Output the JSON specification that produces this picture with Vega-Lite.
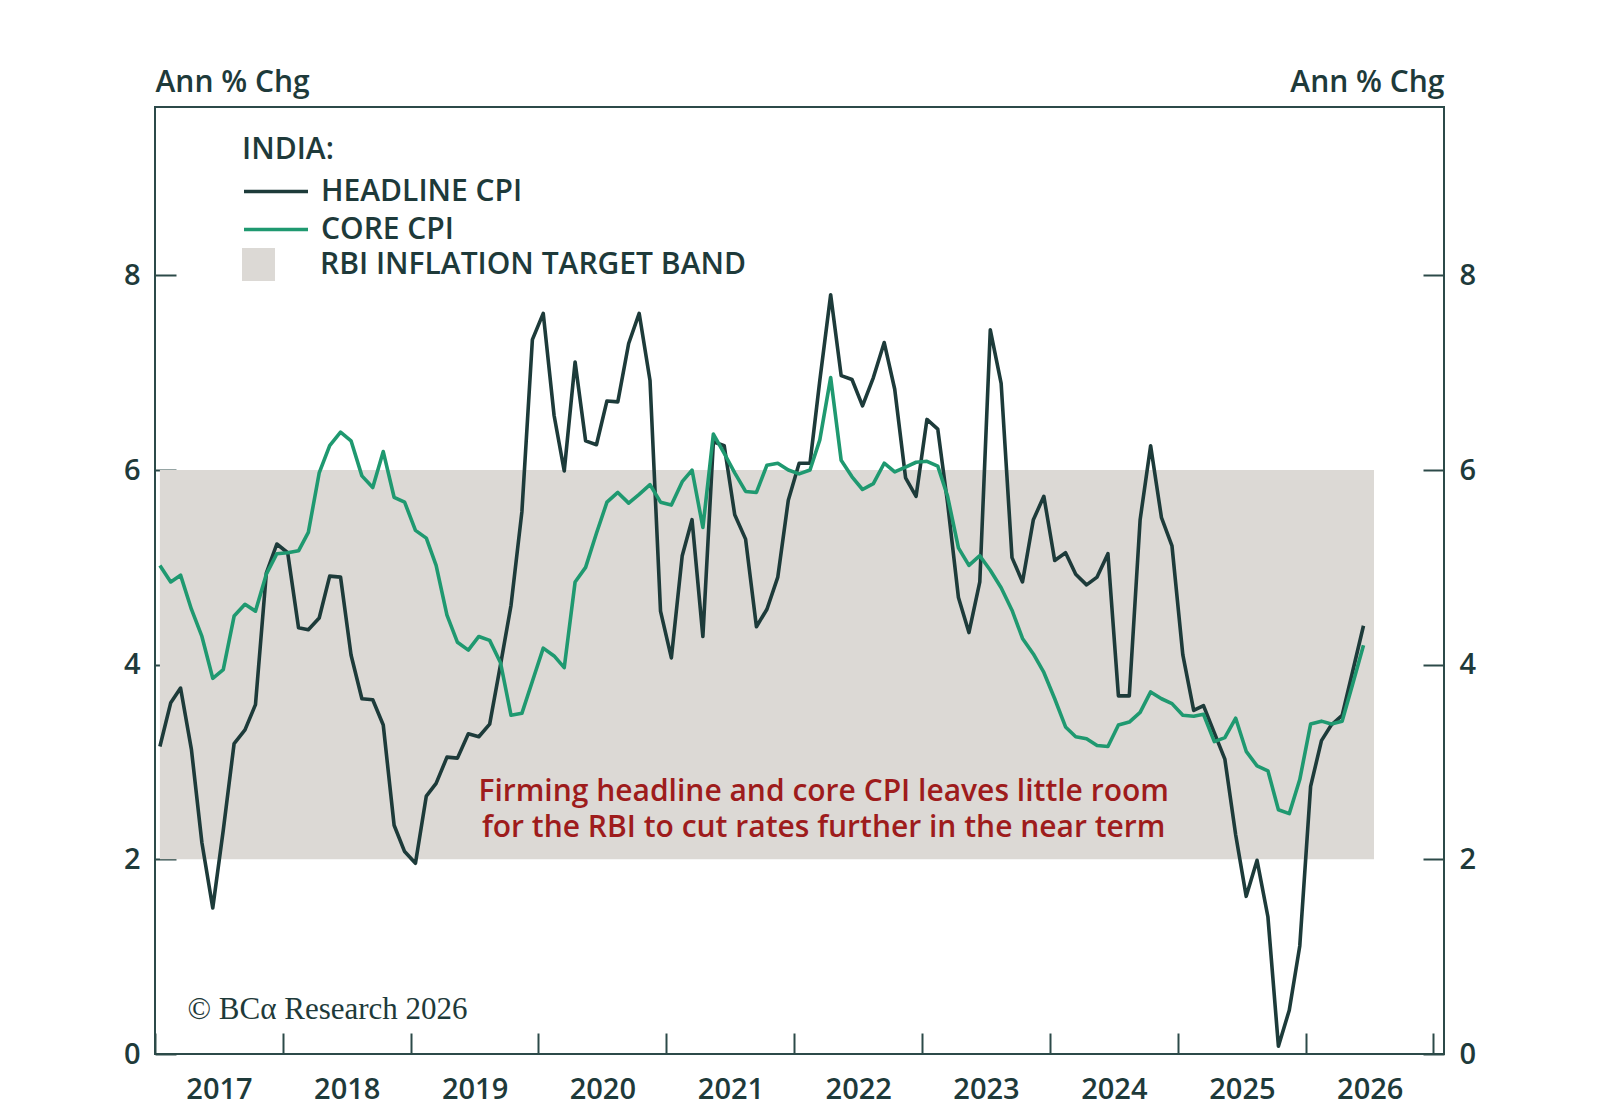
{
  "$schema": "https://vega.github.io/schema/vega-lite/v6.json",
  "width": 1289,
  "height": 947,
  "autosize": {"type": "none"},
  "padding": {"left": 155, "top": 107, "right": 156, "bottom": 55},
  "background": "white",
  "config": {
    "font": "Open Sans",
    "view": {"stroke": "#2c4a49", "strokeWidth": 2},
    "axis": {
      "grid": false,
      "domain": false,
      "labelFont": "Open Sans",
      "labelFontSize": 29,
      "labelFontWeight": 600,
      "labelColor": "#1e3a3a",
      "tickColor": "#2c4a49",
      "tickWidth": 2,
      "tickSize": -21,
      "titleFont": "Open Sans",
      "titleFontSize": 30,
      "titleFontWeight": 600,
      "titleColor": "#1e3a3a"
    },
    "legend": {
      "padding": 0,
      "labelFont": "Open Sans",
      "labelFontSize": 30,
      "labelFontWeight": 600,
      "labelColor": "#1e3a3a",
      "labelLimit": 0,
      "titleFont": "Open Sans",
      "titleFontSize": 30,
      "titleFontWeight": 600,
      "titleColor": "#1e3a3a",
      "titleLimit": 0
    }
  },
  "datasets": {
    "band": [
      {"date": "2017-01-15", "end": "2026-07-15", "lo": 2, "hi": 6, "name": "RBI INFLATION TARGET BAND"}
    ],
    "notes": [
      {"date": "2022-03-26", "value": 2.69, "text": ["Firming headline and core CPI leaves little room", "for the RBI to cut rates further in the near term"]}
    ],
    "credit": [
      {"date": "2017-04-04", "value": 0.45, "text": "© BCα Research 2026"}
    ],
    "cpi": [
      {"date": "2017-01-15", "headline": 3.16, "core": 5.02},
      {"date": "2017-02-15", "headline": 3.61, "core": 4.85},
      {"date": "2017-03-15", "headline": 3.76, "core": 4.92},
      {"date": "2017-04-15", "headline": 3.13, "core": 4.57},
      {"date": "2017-05-15", "headline": 2.17, "core": 4.29},
      {"date": "2017-06-15", "headline": 1.50, "core": 3.86},
      {"date": "2017-07-15", "headline": 2.30, "core": 3.95},
      {"date": "2017-08-15", "headline": 3.19, "core": 4.50},
      {"date": "2017-09-15", "headline": 3.33, "core": 4.62},
      {"date": "2017-10-15", "headline": 3.59, "core": 4.55},
      {"date": "2017-11-15", "headline": 4.94, "core": 4.93},
      {"date": "2017-12-15", "headline": 5.24, "core": 5.14},
      {"date": "2018-01-15", "headline": 5.15, "core": 5.15},
      {"date": "2018-02-15", "headline": 4.38, "core": 5.17},
      {"date": "2018-03-15", "headline": 4.36, "core": 5.36},
      {"date": "2018-04-15", "headline": 4.48, "core": 5.97},
      {"date": "2018-05-15", "headline": 4.91, "core": 6.25},
      {"date": "2018-06-15", "headline": 4.90, "core": 6.39},
      {"date": "2018-07-15", "headline": 4.10, "core": 6.30},
      {"date": "2018-08-15", "headline": 3.65, "core": 5.94},
      {"date": "2018-09-15", "headline": 3.64, "core": 5.82},
      {"date": "2018-10-15", "headline": 3.38, "core": 6.19},
      {"date": "2018-11-15", "headline": 2.35, "core": 5.72},
      {"date": "2018-12-15", "headline": 2.08, "core": 5.67},
      {"date": "2019-01-15", "headline": 1.96, "core": 5.38},
      {"date": "2019-02-15", "headline": 2.65, "core": 5.30},
      {"date": "2019-03-15", "headline": 2.78, "core": 5.02},
      {"date": "2019-04-15", "headline": 3.05, "core": 4.51},
      {"date": "2019-05-15", "headline": 3.04, "core": 4.23},
      {"date": "2019-06-15", "headline": 3.29, "core": 4.15},
      {"date": "2019-07-15", "headline": 3.26, "core": 4.29},
      {"date": "2019-08-15", "headline": 3.39, "core": 4.25},
      {"date": "2019-09-15", "headline": 4.00, "core": 4.02},
      {"date": "2019-10-15", "headline": 4.61, "core": 3.48},
      {"date": "2019-11-15", "headline": 5.57, "core": 3.50},
      {"date": "2019-12-15", "headline": 7.34, "core": 3.83},
      {"date": "2020-01-15", "headline": 7.61, "core": 4.17},
      {"date": "2020-02-15", "headline": 6.56, "core": 4.09},
      {"date": "2020-03-15", "headline": 5.99, "core": 3.97},
      {"date": "2020-04-15", "headline": 7.11, "core": 4.85},
      {"date": "2020-05-15", "headline": 6.30, "core": 5.00},
      {"date": "2020-06-15", "headline": 6.26, "core": 5.35},
      {"date": "2020-07-15", "headline": 6.71, "core": 5.67},
      {"date": "2020-08-15", "headline": 6.70, "core": 5.77},
      {"date": "2020-09-15", "headline": 7.30, "core": 5.66},
      {"date": "2020-10-15", "headline": 7.61, "core": 5.75},
      {"date": "2020-11-15", "headline": 6.92, "core": 5.85},
      {"date": "2020-12-15", "headline": 4.55, "core": 5.67},
      {"date": "2021-01-15", "headline": 4.07, "core": 5.64},
      {"date": "2021-02-15", "headline": 5.12, "core": 5.88},
      {"date": "2021-03-15", "headline": 5.49, "core": 6.00},
      {"date": "2021-04-15", "headline": 4.29, "core": 5.41},
      {"date": "2021-05-15", "headline": 6.29, "core": 6.37},
      {"date": "2021-06-15", "headline": 6.25, "core": 6.17},
      {"date": "2021-07-15", "headline": 5.54, "core": 5.97},
      {"date": "2021-08-15", "headline": 5.29, "core": 5.78},
      {"date": "2021-09-15", "headline": 4.39, "core": 5.77},
      {"date": "2021-10-15", "headline": 4.57, "core": 6.05},
      {"date": "2021-11-15", "headline": 4.90, "core": 6.07},
      {"date": "2021-12-15", "headline": 5.69, "core": 6.00},
      {"date": "2022-01-15", "headline": 6.07, "core": 5.96},
      {"date": "2022-02-15", "headline": 6.07, "core": 6.00},
      {"date": "2022-03-15", "headline": 6.92, "core": 6.31},
      {"date": "2022-04-15", "headline": 7.80, "core": 6.95},
      {"date": "2022-05-15", "headline": 6.97, "core": 6.10},
      {"date": "2022-06-15", "headline": 6.93, "core": 5.93},
      {"date": "2022-07-15", "headline": 6.66, "core": 5.80},
      {"date": "2022-08-15", "headline": 6.95, "core": 5.86},
      {"date": "2022-09-15", "headline": 7.31, "core": 6.07},
      {"date": "2022-10-15", "headline": 6.83, "core": 5.98},
      {"date": "2022-11-15", "headline": 5.92, "core": 6.03},
      {"date": "2022-12-15", "headline": 5.73, "core": 6.08},
      {"date": "2023-01-15", "headline": 6.52, "core": 6.09},
      {"date": "2023-02-15", "headline": 6.42, "core": 6.04},
      {"date": "2023-03-15", "headline": 5.66, "core": 5.73},
      {"date": "2023-04-15", "headline": 4.69, "core": 5.20},
      {"date": "2023-05-15", "headline": 4.33, "core": 5.02},
      {"date": "2023-06-15", "headline": 4.85, "core": 5.12},
      {"date": "2023-07-15", "headline": 7.44, "core": 4.97},
      {"date": "2023-08-15", "headline": 6.89, "core": 4.79},
      {"date": "2023-09-15", "headline": 5.10, "core": 4.56},
      {"date": "2023-10-15", "headline": 4.85, "core": 4.27},
      {"date": "2023-11-15", "headline": 5.49, "core": 4.11},
      {"date": "2023-12-15", "headline": 5.73, "core": 3.92},
      {"date": "2024-01-15", "headline": 5.07, "core": 3.65},
      {"date": "2024-02-15", "headline": 5.15, "core": 3.36},
      {"date": "2024-03-15", "headline": 4.93, "core": 3.26},
      {"date": "2024-04-15", "headline": 4.82, "core": 3.24},
      {"date": "2024-05-15", "headline": 4.90, "core": 3.17},
      {"date": "2024-06-15", "headline": 5.14, "core": 3.16},
      {"date": "2024-07-15", "headline": 3.68, "core": 3.38},
      {"date": "2024-08-15", "headline": 3.68, "core": 3.41},
      {"date": "2024-09-15", "headline": 5.49, "core": 3.51},
      {"date": "2024-10-15", "headline": 6.25, "core": 3.72},
      {"date": "2024-11-15", "headline": 5.51, "core": 3.65},
      {"date": "2024-12-15", "headline": 5.22, "core": 3.60},
      {"date": "2025-01-15", "headline": 4.10, "core": 3.48},
      {"date": "2025-02-15", "headline": 3.53, "core": 3.47},
      {"date": "2025-03-15", "headline": 3.58, "core": 3.49},
      {"date": "2025-04-15", "headline": 3.30, "core": 3.21},
      {"date": "2025-05-15", "headline": 3.03, "core": 3.25},
      {"date": "2025-06-15", "headline": 2.25, "core": 3.45},
      {"date": "2025-07-15", "headline": 1.62, "core": 3.11},
      {"date": "2025-08-15", "headline": 1.99, "core": 2.96},
      {"date": "2025-09-15", "headline": 1.41, "core": 2.91},
      {"date": "2025-10-15", "headline": 0.08, "core": 2.51},
      {"date": "2025-11-15", "headline": 0.45, "core": 2.47},
      {"date": "2025-12-15", "headline": 1.11, "core": 2.82},
      {"date": "2026-01-15", "headline": 2.75, "core": 3.39},
      {"date": "2026-02-15", "headline": 3.22, "core": 3.42},
      {"date": "2026-03-15", "headline": 3.38, "core": 3.39},
      {"date": "2026-04-15", "headline": 3.48, "core": 3.42},
      {"date": "2026-05-15", "headline": 3.93, "core": 3.80},
      {"date": "2026-06-15", "headline": 4.40, "core": 4.20}
    ]
  },
  "encoding": {
    "x": {
      "field": "date",
      "type": "temporal",
      "scale": {
        "type": "utc",
        "domain": [
          {"year": 2017, "month": 1, "date": 1, "utc": true},
          {"year": 2027, "month": 1, "date": 31, "utc": true}
        ]
      },
      "axis": {
        "title": null,
        "values": [
          {"year": 2017, "month": 1, "date": 1, "utc": true},
          {"year": 2018, "month": 1, "date": 1, "utc": true},
          {"year": 2019, "month": 1, "date": 1, "utc": true},
          {"year": 2020, "month": 1, "date": 1, "utc": true},
          {"year": 2021, "month": 1, "date": 1, "utc": true},
          {"year": 2022, "month": 1, "date": 1, "utc": true},
          {"year": 2023, "month": 1, "date": 1, "utc": true},
          {"year": 2024, "month": 1, "date": 1, "utc": true},
          {"year": 2025, "month": 1, "date": 1, "utc": true},
          {"year": 2026, "month": 1, "date": 1, "utc": true},
          {"year": 2027, "month": 1, "date": 1, "utc": true}
        ],
        "labelExpr": "utcyear(datum.value) > 2026 ? '' : utcFormat(datum.value, '%Y')",
        "labelOffset": 64,
        "labelPadding": 42,
        "labelFlush": false,
        "labelOverlap": false,
        "labelAlign": "center"
      }
    }
  },
  "layer": [
    {
      "data": {"name": "band"},
      "mark": {"type": "rect", "opacity": 1},
      "encoding": {
        "x2": {"field": "end"},
        "y": {
          "field": "lo",
          "type": "quantitative",
          "scale": {"domain": [0, 9.73], "nice": false, "zero": false},
          "axis": {
            "orient": "right",
            "values": [0, 2, 4, 6, 8],
            "title": "Ann % Chg",
            "titleAngle": 0,
            "titleAlign": "right",
            "titleBaseline": "alphabetic",
            "titleX": 0,
            "titleY": -16,
            "labelPadding": 36
          }
        },
        "y2": {"field": "hi"},
        "fill": {
          "field": "name",
          "type": "nominal",
          "scale": {"range": ["#dcd9d5"]},
          "legend": {
            "title": null,
            "orient": "none",
            "legendX": 87,
            "legendY": 141,
            "symbolType": "square",
            "symbolSize": 1089,
            "symbolStrokeWidth": 0,
            "symbolOpacity": 1,
            "labelOffset": 45
          }
        }
      }
    },
    {
      "data": {"name": "cpi"},
      "transform": [{"fold": ["headline", "core"], "as": ["series", "value"]}],
      "mark": {"type": "line", "strokeWidth": 3.6, "strokeJoin": "round"},
      "encoding": {
        "y": {
          "field": "value",
          "type": "quantitative",
          "scale": {"domain": [0, 9.73], "nice": false, "zero": false},
          "axis": {
            "orient": "left",
            "values": [0, 2, 4, 6, 8],
            "title": "Ann % Chg",
            "titleAngle": 0,
            "titleAlign": "left",
            "titleBaseline": "alphabetic",
            "titleX": 0,
            "titleY": -16,
            "labelPadding": 36
          }
        },
        "color": {
          "field": "series",
          "type": "nominal",
          "scale": {"domain": ["headline", "core"], "range": ["#1d3b3a", "#1f9970"]},
          "legend": {
            "title": "INDIA:",
            "orient": "none",
            "legendX": 87,
            "legendY": 28,
            "symbolType": "stroke",
            "symbolSize": 4096,
            "symbolStrokeWidth": 3.6,
            "clipHeight": 29,
            "rowPadding": 7,
            "titlePadding": 12,
            "labelOffset": 11,
            "labelExpr": "datum.value == 'headline' ? 'HEADLINE CPI' : 'CORE CPI'"
          }
        }
      }
    },
    {
      "data": {"name": "notes"},
      "mark": {
        "type": "text",
        "align": "center",
        "baseline": "middle",
        "font": "Open Sans",
        "fontSize": 30,
        "fontWeight": 600,
        "lineHeight": 36,
        "color": "#9e1c1c"
      },
      "encoding": {
        "y": {"field": "value", "type": "quantitative", "scale": {"domain": [0, 9.73], "nice": false, "zero": false}, "axis": null},
        "text": {"field": "text"}
      }
    },
    {
      "data": {"name": "credit"},
      "mark": {
        "type": "text",
        "align": "left",
        "baseline": "middle",
        "font": "Liberation Serif",
        "fontSize": 31,
        "color": "#1e3a3a"
      },
      "encoding": {
        "y": {"field": "value", "type": "quantitative", "scale": {"domain": [0, 9.73], "nice": false, "zero": false}, "axis": null},
        "text": {"field": "text"}
      }
    }
  ],
  "resolve": {"axis": {"y": "independent"}}
}
